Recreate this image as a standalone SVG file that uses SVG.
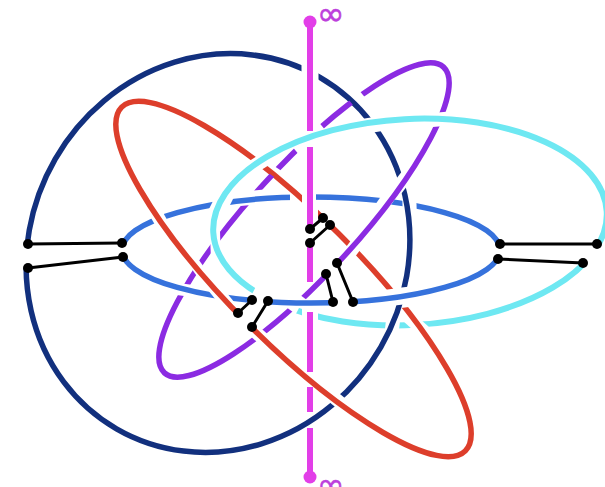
<svg xmlns="http://www.w3.org/2000/svg" width="605" height="487" viewBox="0 0 605 487">
<style>
.loop{fill:none;stroke-width:5.5}
.cut{stroke:#000;fill:none}
.link{stroke:#000;stroke-width:3;fill:none}
.dot{fill:#000}
.inf{font-family:"DejaVu Sans",sans-serif;font-size:33px;fill:#bd3fdc;stroke:#bd3fdc;stroke-width:.6}
</style>
<defs>
<mask id="mNavy" maskUnits="userSpaceOnUse" x="0" y="0" width="605" height="487"><rect width="605" height="487" fill="#fff"/>
<g class="cut"><path stroke-width="17" d="M310 58V88"/><path stroke-width="15" d="M360 127L390 122"/><path stroke-width="13" d="M392 195L412 169"/><path stroke-width="17" d="M385 298L420 294"/><path stroke-width="13" d="M325 390L349 410"/><path stroke-width="24" d="M15 256H40"/></g></mask>
<mask id="mBlue" maskUnits="userSpaceOnUse" x="0" y="0" width="605" height="487"><rect width="605" height="487" fill="#fff"/>
<g class="cut"><path stroke-width="14" d="M110 250H134"/><path stroke-width="14" d="M486 252H510"/><path stroke-width="13" d="M150 203L166 231"/><path stroke-width="17" d="M228 190L216 214"/><path stroke-width="26" d="M303 185V210"/><path stroke-width="13" d="M392 192L378 212"/><path stroke-width="14" d="M409 190L410 220"/><path stroke-width="20" d="M343 290V314"/><path stroke-width="16" d="M260 288V312"/><path stroke-width="13" d="M213 286L229 306"/></g></mask>
<mask id="mRed" maskUnits="userSpaceOnUse" x="0" y="0" width="605" height="487"><rect width="605" height="487" fill="#fff"/>
<g class="cut"><path stroke-width="14" d="M245 172L275 153"/><path stroke-width="16" d="M310 190V225"/><path stroke-width="11" d="M318 229L334 213"/><path stroke-width="13" d="M343 262L361 238"/><path stroke-width="20" d="M385 300L415 296"/><path stroke-width="20" d="M238 327L252 313"/></g></mask>
<mask id="mPurple" maskUnits="userSpaceOnUse" x="0" y="0" width="605" height="487"><rect width="605" height="487" fill="#fff"/>
<g class="cut"><path stroke-width="14" d="M420 121L456 118"/><path stroke-width="14" d="M348 88L368 112"/><path stroke-width="36" d="M301 129L321 153"/><path stroke-width="9" d="M266 166L290 182"/><path stroke-width="14" d="M240 199L270 196"/><path stroke-width="10" d="M215 232L216 262"/><path stroke-width="11" d="M190 257L210 285"/><path stroke-width="12" d="M170 288L200 292"/><path stroke-width="13" d="M250 327L270 345"/><path stroke-width="18" d="M285 295L308 312"/><path stroke-width="15" d="M324 261L339 276"/></g></mask>
<mask id="mCyan" maskUnits="userSpaceOnUse" x="0" y="0" width="605" height="487"><rect width="605" height="487" fill="#fff"/>
<g class="cut"><path stroke-width="48" d="M285 283L265 321"/><path stroke-width="16" d="M310 304V328"/><path stroke-width="14" d="M394 313L391 337"/><path stroke-width="13" d="M406 315L426 333"/><path stroke-width="23" d="M578 244L602 264"/></g></mask>
</defs>
<rect width="605" height="487" fill="#fff"/>
<g id="loop-navy" mask="url(#mNavy)"><ellipse class="loop" cx="218" cy="253" rx="203" ry="188" transform="rotate(-60 218 253)" stroke="#12307e"/></g>
<g id="loop-blue" mask="url(#mBlue)"><ellipse class="loop" cx="311" cy="250" rx="189" ry="53" stroke="#3672dc"/></g>
<g id="loop-cyan" mask="url(#mCyan)"><ellipse class="loop" cx="410" cy="222" rx="197" ry="103" transform="rotate(-3 410 222)" stroke="#6ee8f2" style="stroke-width:6"/></g>
<g id="loop-red" mask="url(#mRed)"><ellipse class="loop" cx="293.5" cy="279" rx="243" ry="64" transform="rotate(45 293.5 279)" stroke="#dd3e2b"/></g>
<g id="loop-purple" mask="url(#mPurple)"><ellipse class="loop" cx="304" cy="220" rx="207" ry="54" transform="rotate(-47.6 304 220)" stroke="#8b2be2"/></g>
<g id="axis"><path d="M310 22V131M310 147V229M310 244V282M310 312V372M310 387V412M310 428V477" fill="none" stroke="#e23ee8" stroke-width="6"/><circle cx="310" cy="22" r="6.5" fill="#e23ee8"/><circle cx="310" cy="477" r="6.5" fill="#e23ee8"/><text class="inf" x="317" y="25">∞</text><text class="inf" x="317" y="496">∞</text></g>
<g id="connectors">
<path class="link" d="M28 244L122 243M28 268L123 257M500 244H597M498 259L583 263M323 218L310 229M330 225L310 243M337 263L353 302M326 274L333 302M252 300L238 313M268 301L252 327"/>
<g class="dot"><circle cx="28" cy="244" r="5"/><circle cx="122" cy="243" r="5"/><circle cx="28" cy="268" r="5"/><circle cx="123" cy="257" r="5"/><circle cx="500" cy="244" r="5"/><circle cx="597" cy="244" r="5"/><circle cx="498" cy="259" r="5"/><circle cx="583" cy="263" r="5"/><circle cx="323" cy="218" r="5"/><circle cx="310" cy="229" r="5"/><circle cx="330" cy="225" r="5"/><circle cx="310" cy="243" r="5"/><circle cx="337" cy="263" r="5"/><circle cx="353" cy="302" r="5"/><circle cx="326" cy="274" r="5"/><circle cx="333" cy="302" r="5"/><circle cx="252" cy="300" r="5"/><circle cx="238" cy="313" r="5"/><circle cx="268" cy="301" r="5"/><circle cx="252" cy="327" r="5"/></g>
</g>
</svg>
